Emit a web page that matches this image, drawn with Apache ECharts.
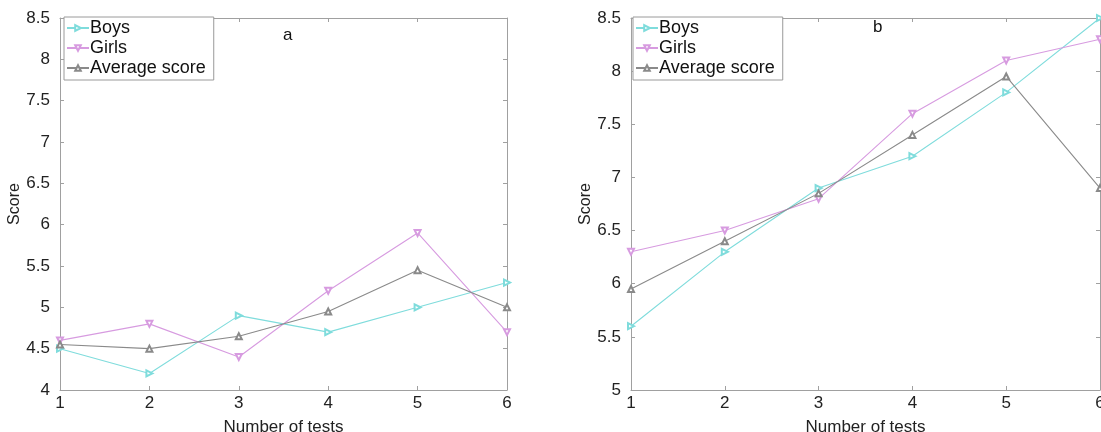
<!DOCTYPE html>
<html>
<head>
<meta charset="utf-8">
<script src="https://cdn.jsdelivr.net/npm/echarts@6/dist/echarts.min.js"></script>
<style>
html,body{margin:0;padding:0;background:#fff;}
#main{width:1101px;height:432px;}
</style>
</head>
<body>
<div id="main"></div>
<script>
// x axis = number of tests
var tests = [1, 2, 3, 4, 5, 6];
// panel a
var boys_a = [4.5, 4.2, 4.9, 4.7, 5.0, 5.3];
var girls_a = [4.6, 4.8, 4.4, 5.2, 5.9, 4.7];
var avg_a = [4.55, 4.5, 4.65, 4.95, 5.45, 5.0];
// panel b
var boys_b = [5.6, 6.3, 6.9, 7.2, 7.8, 8.5];
var girls_b = [6.3, 6.5, 6.8, 7.6, 8.1, 8.3];
var avg_b = [5.95, 6.4, 6.85, 7.4, 7.95, 6.9];
var names = ['Boys', 'Girls', 'Average score'];

var FONT = '"Liberation Sans", Arial, sans-serif';
var axisGrey = '#a0a0a0';
var colBoys = '#7fdcdc', colGirls = '#d79be0', colAvg = '#8a8a8a';

function pairs(ys){
	var out = [];
	for(var i = 0; i < tests.length; i++){
		out.push([tests[i], ys[i]]);
	}
	return out;
}

function xAx(gi, isTop){
	return {
		type: 'value', gridIndex: gi, min: 1, max: 6, interval: 1,
		position: isTop ? 'top' : 'bottom',
		name: isTop ? '' : 'Number of tests',
		nameLocation: 'middle', nameGap: 29,
		nameTextStyle: {fontFamily: FONT, fontSize: 17, color: '#222'},
		axisLine: {show: true, lineStyle: {color: axisGrey, width: 1}},
		axisTick: {show: true, inside: true, length: 4, lineStyle: {color: axisGrey}},
		axisLabel: {show: !isTop, fontFamily: FONT, fontSize: 17, color: '#222', margin: 5},
		splitLine: {show: false}
	};
}
function yAx(gi, mn, isRight){
	return {
		type: 'value', gridIndex: gi, min: mn, max: 8.5, interval: 0.5,
		position: isRight ? 'right' : 'left',
		name: isRight ? '' : 'Score',
		nameLocation: 'middle', nameGap: 29,
		nameTextStyle: {fontFamily: FONT, fontSize: 16, color: '#222'},
		axisLine: {show: true, lineStyle: {color: axisGrey, width: 1}},
		axisTick: {show: true, inside: true, length: 4, lineStyle: {color: axisGrey}},
		axisLabel: {show: !isRight, fontFamily: FONT, fontSize: 17, color: '#222', margin: 10},
		splitLine: {show: false}
	};
}
function line(name, data, col, rot, xi, yi){
	return {
		type: 'line', name: name, data: pairs(data),
		xAxisIndex: xi, yAxisIndex: yi,
		symbol: 'emptyTriangle', symbolSize: 6, symbolRotate: rot,
		showSymbol: true,
		lineStyle: {color: col, width: 1.1},
		itemStyle: {color: col, borderColor: col, borderWidth: 1},
		emphasis: {disabled: true},
		animation: false
	};
}
function leg(left){
	return {
		data: names, orient: 'vertical', left: left, top: 17,
		itemWidth: 22, itemHeight: 7, itemGap: 2,
		padding: [2, 8, 3, 2],
		borderColor: '#9a9a9a', borderWidth: 1, borderRadius: 0,
		backgroundColor: '#fff',
		textStyle: {fontFamily: FONT, fontSize: 18, color: '#111', padding: [0, 0, 0, -4]}
	};
}

var myChart = echarts.init(document.getElementById('main'));
var option = {
	backgroundColor: '#fff',
	animation: false,
	title: [
		{text: 'a', left: 278, top: 22, textStyle: {fontFamily: FONT, fontSize: 17, fontWeight: 'normal', color: '#111'}},
		{text: 'b', left: 868, top: 14, textStyle: {fontFamily: FONT, fontSize: 17, fontWeight: 'normal', color: '#111'}}
	],
	legend: [leg(64), leg(633)],
	grid: [
		{left: 60, top: 18, width: 447, height: 372, outerBoundsMode: 'none'},
		{left: 631, top: 18, width: 469, height: 372, outerBoundsMode: 'none'}
	],
	xAxis: [xAx(0, false), xAx(0, true), xAx(1, false), xAx(1, true)],
	yAxis: [yAx(0, 4, false), yAx(0, 4, true), yAx(1, 5, false), yAx(1, 5, true)],
	series: [
		line('Boys', boys_a, colBoys, -90, 0, 0),
		line('Girls', girls_a, colGirls, 180, 0, 0),
		line('Average score', avg_a, colAvg, 0, 0, 0),
		line('Boys', boys_b, colBoys, -90, 2, 2),
		line('Girls', girls_b, colGirls, 180, 2, 2),
		line('Average score', avg_b, colAvg, 0, 2, 2)
	]
};
myChart.setOption(option);
</script>
</body>
</html>
